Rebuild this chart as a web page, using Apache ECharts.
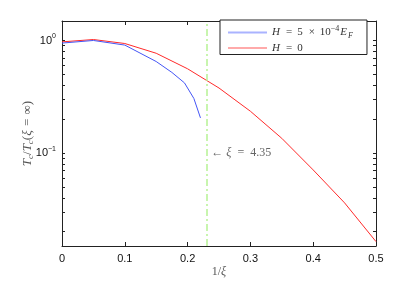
<!DOCTYPE html>
<html>
<head>
<meta charset="utf-8">
<script src="https://cdn.jsdelivr.net/npm/echarts@6/dist/echarts.min.js"></script>
<style>html,body{margin:0;padding:0;background:#fff}#c{width:415px;height:283px}</style>
</head>
<body>
<div id="c"></div>
<script>
// ---- data ----
var xBlue = [0, 0.05, 0.1, 0.15, 0.175, 0.195, 0.21, 0.2205];
var yBlue = [0.948, 1.0, 0.91, 0.65, 0.52, 0.42, 0.305, 0.205];
var xRed = [0, 0.05, 0.1, 0.15, 0.2, 0.25, 0.3, 0.35, 0.4, 0.45, 0.5];
var yRed = [0.972, 1.02, 0.94, 0.77, 0.56, 0.378, 0.235, 0.135, 0.0707, 0.036, 0.0163];
var xiLine = 1 / 4.35;
var xTicks = [0, 0.1, 0.2, 0.3, 0.4, 0.5];
var yMajor = [0.1, 1];
var yMinor = [0.02, 0.03, 0.04, 0.05, 0.06, 0.07, 0.08, 0.09, 0.1, 0.2, 0.3, 0.4, 0.5, 0.6, 0.7, 0.8, 0.9, 1];
var yLabels = {'0.1': '{b|10}{s|−1}', '1': '{b|10}{s|0}'};
var seriesNames = ['H5', 'H0'];

function zip(a, b) { return a.map(function (v, i) { return [v, b[i]]; }); }

var serif = 'Liberation Serif';
var sans = 'Liberation Sans';
var chart = echarts.init(document.getElementById('c'), null, {renderer: 'canvas'});

function yAxisBase(pos) {
  return {
    type: 'log', logBase: 10, min: 0.0149, max: 1.49, position: pos,
    splitLine: {show: false},
    axisLine: {show: true, onZero: false, lineStyle: {color: '#222', width: 1}},
    axisTick: {show: true, inside: true, length: 3, customValues: yMinor.slice(), lineStyle: {color: '#222'}},
    axisLabel: {show: false}
  };
}
function xAxisBase(pos) {
  return {
    type: 'value', min: 0, max: 0.5, interval: 0.1, position: pos,
    splitLine: {show: false},
    axisLine: {show: true, onZero: false, lineStyle: {color: '#222', width: 1}},
    axisTick: {show: true, inside: true, length: 4, lineStyle: {color: '#222'}},
    axisLabel: {show: false}
  };
}

var xb = xAxisBase('bottom');
xb.axisLabel = {show: true, fontFamily: sans, fontSize: 11, color: '#111', margin: 7,
  customValues: xTicks.slice(),
  formatter: function (v) { return String(+v.toFixed(2)); }};
xb.name = '1/{i|ξ}';
xb.nameLocation = 'middle';
xb.nameGap = 20;
xb.nameMoveOverlap = false;
xb.nameTextStyle = {fontFamily: serif, fontSize: 12, color: '#555',
  rich: {i: {fontFamily: serif, fontStyle: 'italic', fontSize: 12, color: '#555'}}};

var yl = yAxisBase('left');
yl.axisLabel = {show: true, fontFamily: sans, fontSize: 11, color: '#111', margin: 6,
  customValues: yMajor.slice(),
  formatter: function (v) { return yLabels[String(+v.toPrecision(3))] || ''; },
  rich: {
    b: {fontFamily: sans, fontSize: 11, color: '#111'},
    s: {fontFamily: sans, fontSize: 7, color: '#111', padding: [0, 0, 8, 0]}
  }};
yl.name = '{i|T}{s|c}/{i|T}{s|c}({i|ξ} {o|=} ∞)';
yl.nameLocation = 'middle';
yl.nameRotate = 90;
yl.nameGap = 27;
yl.nameMoveOverlap = false;
yl.nameTextStyle = {fontFamily: serif, fontSize: 13, color: '#555',
  rich: {
    i: {fontFamily: serif, fontStyle: 'italic', fontSize: 13, color: '#555'},
    o: {fontFamily: serif, fontSize: 13, color: '#555', padding: [0, 1]},
    s: {fontFamily: serif, fontStyle: 'italic', fontSize: 9, color: '#555', padding: [6, 0, 0, 0]}
  }};

var legendRich = {
  i: {fontFamily: serif, fontStyle: 'italic', fontSize: 11, color: '#333', lineHeight: 15},
  n: {fontFamily: serif, fontSize: 11, color: '#333', lineHeight: 15},
  o: {fontFamily: serif, fontSize: 11, color: '#333', lineHeight: 15, padding: [0, 5, 0, 6]},
  p: {fontFamily: serif, fontSize: 8, color: '#333', padding: [0, 1, 7, 0]},
  s: {fontFamily: serif, fontStyle: 'italic', fontSize: 8, color: '#333', padding: [6, 0, 0, 1]}
};

var option = {
  animation: false,
  grid: {left: 62, right: 39, top: 21, bottom: 32},
  xAxis: [xb, xAxisBase('top')],
  yAxis: [yl, yAxisBase('right')],
  legend: {
    show: true, orient: 'vertical', left: 220, top: 20,
    backgroundColor: '#fff', borderColor: '#222', borderWidth: 1, borderRadius: 0,
    padding: [5, 14, 1, 8], itemGap: 3, itemWidth: 39, itemHeight: 2, icon: 'rect',
    data: [
      {name: 'H5', itemStyle: {color: '#aab3ff'}},
      {name: 'H0', itemStyle: {color: '#ffaaaa'}}
    ],
    formatter: function (n) {
      return n === 'H5' ? '{i|H}{o|=}{n|5}{o|×}{n|10}{p|−4}{i|E}{s|F}' : '{i|H}{o|=}{n|0}';
    },
    textStyle: {fontFamily: serif, fontSize: 11, color: '#333', rich: legendRich}
  },
  series: [
    {
      name: seriesNames[0], type: 'line', data: zip(xBlue, yBlue), showSymbol: false, symbol: 'none',
      lineStyle: {color: '#4455f5', width: 1}, itemStyle: {color: '#4455f5'}, z: 3
    },
    {
      name: seriesNames[1], type: 'line', data: zip(xRed, yRed), showSymbol: false, symbol: 'none',
      lineStyle: {color: '#ff2a2a', width: 1}, itemStyle: {color: '#ff2a2a'}, z: 2,
      markLine: {
        silent: true, symbol: 'none', label: {show: false},
        lineStyle: {color: '#b6f294', width: 1.5, type: [7, 3, 2, 3]},
        data: [{xAxis: xiLine}]
      },
      markPoint: {
        silent: true, symbol: 'circle', symbolSize: 0,
        label: {show: true, position: 'right', distance: 5, formatter: '← {i|ξ} {o|=} 4.35',
          fontFamily: serif, fontSize: 12, color: '#666',
          rich: {
            i: {fontFamily: serif, fontStyle: 'italic', fontSize: 12, color: '#666'},
            o: {fontFamily: serif, fontSize: 12, color: '#666', padding: [0, 3]}
          }},
        data: [{coord: [xiLine, 0.1]}]
      }
    }
  ]
};
chart.setOption(option);
</script>
</body>
</html>
